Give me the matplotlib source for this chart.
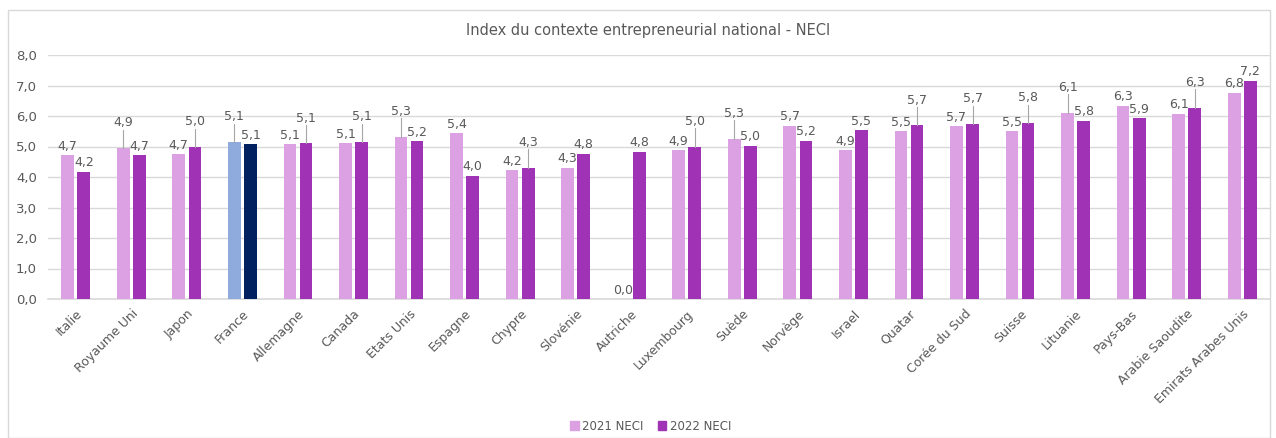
import matplotlib
matplotlib.use("Agg")
import matplotlib.pyplot as plt
from matplotlib.patches import Rectangle, Patch
import numpy as np

pays = ["Italie", "Royaume Uni", "Japon", "France", "Allemagne", "Canada",
        "Etats Unis", "Espagne", "Chypre", "Slovénie", "Autriche", "Luxembourg",
        "Suède", "Norvège", "Israel", "Quatar", "Corée du Sud", "Suisse",
        "Lituanie", "Pays-Bas", "Arabie Saoudite", "Emirats Arabes Unis"]
neci_2021 = [4.72, 4.94, 4.74, 5.14, 5.07, 5.10, 5.32, 5.43, 4.22, 4.31, 0.0,
             4.87, 5.26, 5.68, 4.87, 5.51, 5.66, 5.51, 6.11, 6.33, 6.07, 6.77]
neci_2022 = [4.18, 4.72, 4.98, 5.08, 5.10, 5.14, 5.17, 4.04, 4.31, 4.76, 4.83,
             5.00, 5.02, 5.19, 5.53, 5.69, 5.73, 5.77, 5.84, 5.93, 6.27, 7.16]
legende = ["2021 NECI", "2022 NECI"]

clair = "#DBA1E3"
fonce = "#A033B5"
gris = "#595959"

plt.rcParams['font.family'] = ['DejaVu Sans']

fig = plt.figure(figsize=(12.76, 4.38), dpi=100)
ax = fig.add_axes([48 / 1276, 1 - 299 / 438, 1222 / 1276, 244 / 438])

x = np.arange(len(pays))
w = 0.23
dx = 0.145
couleurs_21 = [clair] * len(pays)
couleurs_22 = [fonce] * len(pays)
couleurs_21[pays.index("France")] = "#8FAADC"
couleurs_22[pays.index("France")] = "#002060"

ax.bar(x - dx, neci_2021, w, color=couleurs_21, zorder=3)
ax.bar(x + dx, neci_2022, w, color=couleurs_22, zorder=3)

# etiquettes de donnees (la plus haute est remontee si trop proche)
def fmt(v):
    return f"{v:.1f}".replace(".", ",")

for i in range(len(pays)):
    a, b = neci_2021[i], neci_2022[i]
    for j, (v, xc) in enumerate([(a, x[i] - dx), (b, x[i] + dx)]):
        autre = b if j == 0 else a
        y_lab = v + 0.08
        if abs(a - b) < 0.3 and v >= autre and v > 0:
            y_lab = v + 0.62
            ax.plot([xc, xc], [v, y_lab - 0.02], color="#A6A6A6", lw=0.8, zorder=4)
        ax.text(xc, y_lab, fmt(v), ha="center", va="bottom", fontsize=9,
                color=gris, zorder=5)

ax.set_xlim(-0.5, len(pays) - 0.5)
ax.set_ylim(0, 8)
ax.set_yticks(np.arange(0, 9, 1))
ax.set_yticklabels([fmt(v) for v in np.arange(0, 9, 1.0)], fontsize=9.5, color=gris)
ax.set_xticks(x)
ax.set_xticklabels(pays, rotation=45, ha="right", rotation_mode="anchor",
                   fontsize=9, color=gris)
ax.tick_params(length=0, pad=6)
ax.tick_params(axis="y", pad=8)
ax.grid(axis="y", color="#D9D9D9", lw=1, zorder=0)
for s in ["top", "right", "left"]:
    ax.spines[s].set_visible(False)
ax.spines["bottom"].set_color("#D9D9D9")
ax.spines["bottom"].set_linewidth(1.2)

fig.text(0.508, 1 - 30 / 438, "Index du contexte entrepreneurial national - NECI",
         ha="center", va="center", fontsize=10.5, color=gris)

poignees = [Patch(color=clair), Patch(color=fonce)]
fig.legend(poignees, legende, loc="center", bbox_to_anchor=(0.51, 1 - 426 / 438),
           ncol=2, frameon=False, fontsize=8.5, handlelength=0.7, handleheight=0.7,
           handletextpad=0.3, columnspacing=1.2, labelcolor=gris)

fig.patches.append(Rectangle((8 / 1276, 0), 1262 / 1276, 1 - 10 / 438,
                             transform=fig.transFigure, fill=False,
                             edgecolor="#D9D9D9", lw=1))

fig.savefig("out.png", dpi=100)
